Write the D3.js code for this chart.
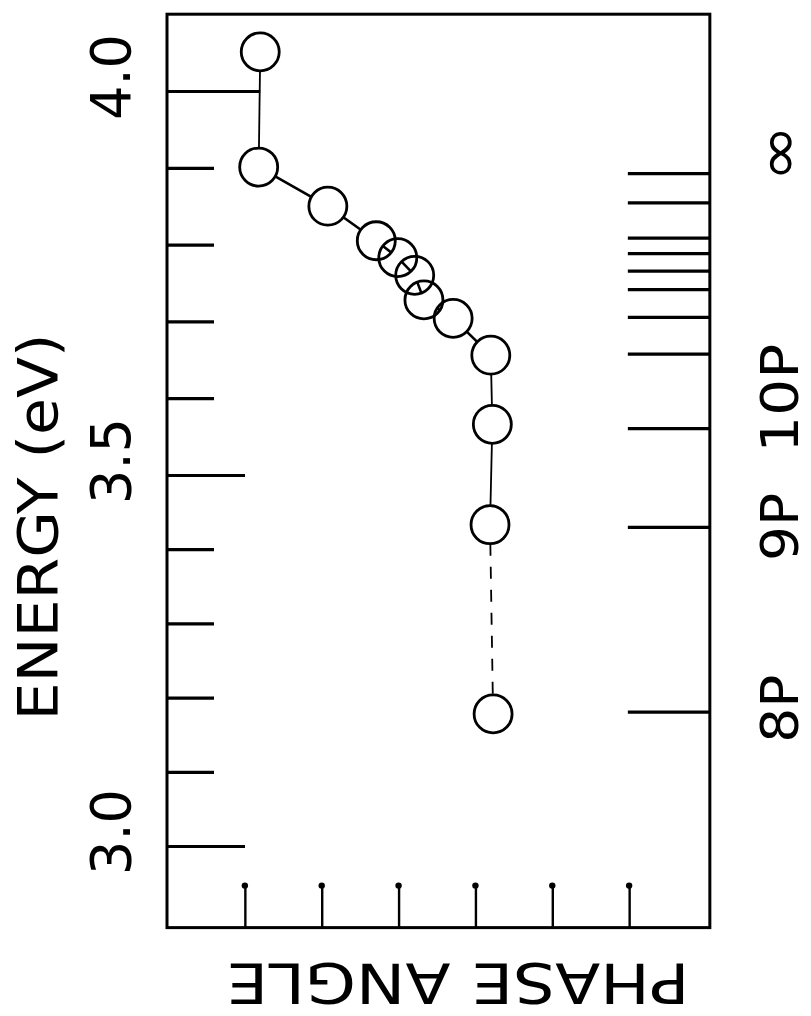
<!DOCTYPE html>
<html>
<head>
<meta charset="utf-8">
<script src="https://cdn.jsdelivr.net/npm/d3@7"></script>
<style>
  html, body { margin: 0; padding: 0; background: #fff; }
  text { font-family: "DejaVu Sans", sans-serif; fill: #000; }
</style>
</head>
<body>
<div id="chart"></div>
<script>
// Energy axis ticks (eV), every 0.1, with labelled majors
const energyTicks = [4.0, 3.9, 3.8, 3.7, 3.6, 3.5, 3.4, 3.3, 3.2, 3.1, 3.0];
const majorTicks = [4.0, 3.5, 3.0];
const majorLabels = ["4.0", "3.5", "3.0"];

// Phase angle ticks (no numbers on the original)
const phaseTicks = [1, 2, 3, 4, 5, 6];

// Measured points: phase angle (arb. units) vs energy (eV)
const phase  = [1.20, 1.18, 2.08, 2.71, 2.99, 3.21, 3.33, 3.71, 4.20, 4.22, 4.19, 4.23];
const energy = [4.051, 3.901, 3.850, 3.805, 3.783, 3.760, 3.728, 3.704, 3.656, 3.566, 3.433, 3.178];

// nP level positions on the right edge
const levelEnergies = [3.893, 3.855, 3.809, 3.789, 3.766, 3.742, 3.706, 3.658, 3.561, 3.430, 3.181];
const levelNames = ["\u221E", "10P", "9P", "8P"];
const levelNameEnergy = [3.919, 3.600, 3.430, 3.185];

const W = 811, H = 1016;

const svg = d3.select("#chart")
    .append("svg")
    .attr("width", W)
    .attr("height", H);

// scales (the hand drawn energy axis is slightly uneven, so use 3 stops)
const x = d3.scaleLinear()
    .domain([0, 7])
    .range([168, 706]);

const y = d3.scaleLinear()
    .domain([3.0, 3.5, 4.0])
    .range([846, 475, 91]);

const x0 = x(0) - 1, x1 = x(7.05);
const y0 = y(4.10), y1 = y(2.89);

// frame
svg.append("rect")
    .attr("x", x0)
    .attr("y", y0)
    .attr("width", x1 - x0)
    .attr("height", y1 - y0)
    .attr("fill", "none")
    .attr("stroke", "#000")
    .attr("stroke-width", 3);

// left ticks: minor and major
const minorAxis = d3.axisRight(y)
    .tickValues(energyTicks.filter(d => !majorTicks.includes(d)))
    .tickSize(47)
    .tickFormat("");

svg.append("g")
    .attr("transform", `translate(${x0},0)`)
    .call(minorAxis)
    .call(g => g.select(".domain").remove())
    .selectAll("line")
    .attr("stroke-width", 3.2);

const majorAxis = d3.axisRight(y)
    .tickValues(majorTicks)
    .tickSize(78)
    .tickFormat("");

const majorG = svg.append("g")
    .attr("transform", `translate(${x0},0)`)
    .call(majorAxis)
    .call(g => g.select(".domain").remove());
majorG.selectAll("line")
    .attr("stroke-width", 3.2)
    // the 4.0 tick runs up to the vertical joining line
    .attr("x2", d => d === 4.0 ? x(phase[0]) - x0 : 78);

// energy labels
svg.selectAll(".elabel")
    .data(majorTicks)
    .join("text")
    .attr("class", "elabel")
    .attr("transform", d => `translate(130,${y(d) - 14}) rotate(-90)`)
    .attr("text-anchor", "middle")
    .attr("font-size", 55)
    .attr("textLength", 86)
    .attr("lengthAdjust", "spacingAndGlyphs")
    .text((d, i) => majorLabels[i]);

svg.append("text")
    .attr("transform", `translate(57,527) rotate(-90)`)
    .attr("text-anchor", "middle")
    .attr("font-size", 55)
    .attr("textLength", 387)
    .attr("lengthAdjust", "spacingAndGlyphs")
    .text("ENERGY (eV)");

// bottom ticks with a dot on top
const phaseAxis = d3.axisTop(x)
    .tickValues(phaseTicks)
    .tickSize(42)
    .tickFormat("");

svg.append("g")
    .attr("transform", `translate(0,${y1})`)
    .call(phaseAxis)
    .call(g => g.select(".domain").remove())
    .selectAll("line")
    .attr("stroke-width", 2.4);

svg.selectAll(".tickdot")
    .data(phaseTicks)
    .join("circle")
    .attr("class", "tickdot")
    .attr("cx", d => x(d))
    .attr("cy", y1 - 42)
    .attr("r", 3.2)
    .attr("fill", "#000");

svg.append("text")
    .attr("transform", `translate(458,964) rotate(180)`)
    .attr("text-anchor", "middle")
    .attr("font-size", 56)
    .attr("textLength", 463)
    .attr("lengthAdjust", "spacingAndGlyphs")
    .text("PHASE ANGLE");

// right edge level lines
const levelAxis = d3.axisLeft(y)
    .tickValues(levelEnergies)
    .tickSize(82)
    .tickFormat("");

svg.append("g")
    .attr("transform", `translate(${x1},0)`)
    .call(levelAxis)
    .call(g => g.select(".domain").remove())
    .selectAll("line")
    .attr("stroke-width", 3.2);

svg.selectAll(".lvl")
    .data(levelNames)
    .join("text")
    .attr("class", "lvl")
    .attr("transform", (d, i) => `translate(798,${y(levelNameEnergy[i])}) rotate(-90)`)
    .attr("text-anchor", "middle")
    .attr("font-size", d => d === "\u221E" ? 58 : 52)
    .attr("textLength", d => d === "10P" ? 109 : d === "\u221E" ? 57 : 68)
    .attr("lengthAdjust", "spacingAndGlyphs")
    .text(d => d);

// joining segments between circles
const R = 19;
const pts = phase.map((p, i) => [x(p), y(energy[i])]);
const segs = d3.pairs(pts);

svg.selectAll(".seg")
    .data(segs)
    .join("line")
    .attr("class", "seg")
    .each(function([a, b], i) {
        const dx = b[0] - a[0], dy = b[1] - a[1];
        const len = Math.hypot(dx, dy);
        const ux = dx / len, uy = dy / len;
        d3.select(this)
            .attr("x1", a[0] + ux * R)
            .attr("y1", a[1] + uy * R)
            .attr("x2", b[0] - ux * R)
            .attr("y2", b[1] - uy * R)
            .attr("stroke", "#000")
            .attr("stroke-width", Math.abs(dx) < 5 ? 1.8 : 2.6)
            .attr("stroke-dasharray", i === segs.length - 1 ? "12,11" : null);
    });

// open circles
svg.selectAll(".pt")
    .data(pts)
    .join("circle")
    .attr("class", "pt")
    .attr("cx", d => d[0])
    .attr("cy", d => d[1])
    .attr("r", R)
    .attr("fill", "none")
    .attr("stroke", "#000")
    .attr("stroke-width", 2.8);
</script>
</body>
</html>
